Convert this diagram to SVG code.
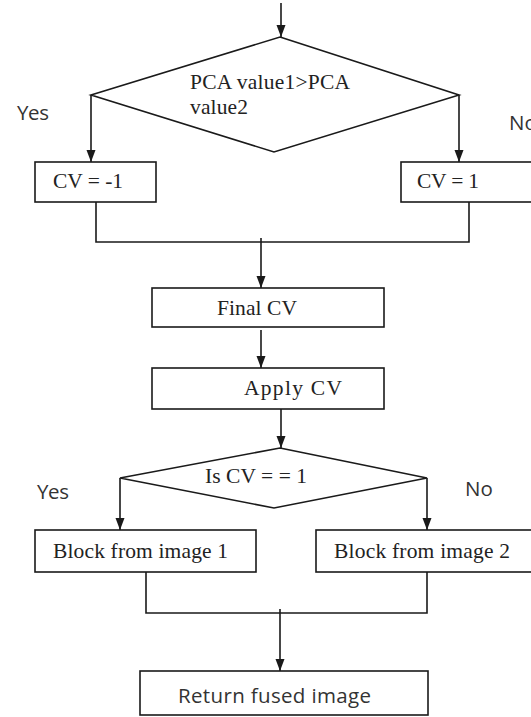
<svg xmlns="http://www.w3.org/2000/svg" width="531" height="717" viewBox="0 0 531 717">
<defs>
<marker id="ah" markerUnits="userSpaceOnUse" markerWidth="12" markerHeight="12" viewBox="0 0 12 12" refX="12" refY="6" orient="auto">
<path d="M0,1.5 L12,6 L0,10.5 Z" fill="#1a1a1a"/>
</marker>
<style>
.box{fill:#fff;stroke:#1a1a1a;stroke-width:1.6}
.ln{fill:none;stroke:#1a1a1a;stroke-width:1.6}
.ar{fill:none;stroke:#1a1a1a;stroke-width:1.6;marker-end:url(#ah)}
.sf{font-family:"Liberation Serif","Times New Roman",serif;font-size:21.5px;fill:#222}
.ss{font-family:"Open Sans","Liberation Sans",sans-serif;font-size:20.5px;fill:#333}
</style>
</defs>
<rect width="531" height="717" fill="#fff"/>
<g id="connectors">
<path class="ar" d="M281,3 V37"/>
<path class="ar" d="M91,95 V162"/>
<path class="ar" d="M459,95 V162"/>
<path class="ln" d="M96,202 V242 H469 V202"/>
<path class="ar" d="M261,238 V288"/>
<path class="ar" d="M261,330 V368"/>
<path class="ar" d="M281,409 V448"/>
<path class="ar" d="M120,478 V530"/>
<path class="ar" d="M427,478 V530"/>
<path class="ln" d="M146,572 V613 H427 V572"/>
<path class="ar" d="M280,609 V671"/>
</g>
<g id="decision1">
<polygon class="box" points="280,37 459,95 274,152 91,95"/>
<text class="sf" x="190" y="89" textLength="160">PCA value1&gt;PCA</text>
<text class="sf" x="190" y="114" textLength="58">value2</text>
</g>
<g id="label-yes1"><text class="ss" x="17" y="120" textLength="32">Yes</text></g>
<g id="label-no1"><text class="ss" x="509" y="130">No</text></g>
<g id="cv-neg">
<rect class="box" x="35" y="162" width="121" height="40"/>
<text class="sf" x="53" y="188" textLength="70">CV = -1</text>
</g>
<g id="cv-pos">
<rect class="box" x="401" y="162" width="135" height="40"/>
<text class="sf" x="417" y="188" textLength="62">CV = 1</text>
</g>
<g id="final-cv">
<rect class="box" x="152" y="288" width="232" height="39"/>
<text class="sf" x="217" y="315" textLength="80">Final CV</text>
</g>
<g id="apply-cv">
<rect class="box" x="152" y="368" width="232" height="41"/>
<text class="sf" x="244" y="395" textLength="98">Apply CV</text>
</g>
<g id="decision2">
<polygon class="box" points="280,448 427,478 274,508 120,478"/>
<text class="sf" x="205" y="483" textLength="102">Is CV = = 1</text>
</g>
<g id="label-yes2"><text class="ss" x="37" y="499" textLength="32">Yes</text></g>
<g id="label-no2"><text class="ss" x="465" y="496">No</text></g>
<g id="block1">
<rect class="box" x="35" y="530" width="221" height="42"/>
<text class="sf" x="53" y="558" textLength="175">Block from image 1</text>
</g>
<g id="block2">
<rect class="box" x="316" y="530" width="220" height="42"/>
<text class="sf" x="334" y="558" textLength="176">Block from image 2</text>
</g>
<g id="return">
<rect class="box" x="140" y="671" width="288" height="44"/>
<text class="ss" x="178" y="703" textLength="193">Return fused image</text>
</g>
</svg>
